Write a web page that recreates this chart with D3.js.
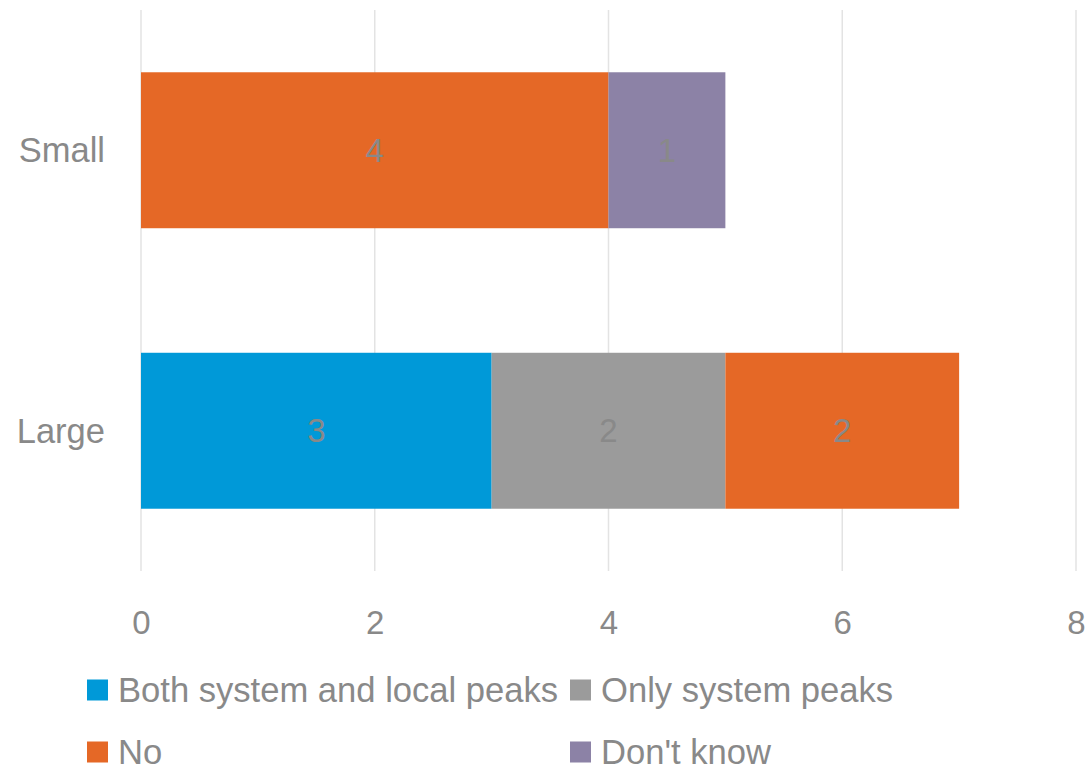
<!DOCTYPE html>
<html><head><meta charset="utf-8">
<script src="https://cdn.jsdelivr.net/npm/d3@7"></script>
<style>body{margin:0;background:#fff}svg{display:block}</style>
</head><body>
<svg id="chart" width="1089" height="770"></svg>
<script>
const categories = ["Small", "Large"];
const seriesNames = ["Both system and local peaks", "Only system peaks", "No", "Don't know"];
const seriesColors = ["#0099D8", "#9B9B9B", "#E56826", "#8C82A6"];
const bothValues = [0, 3];
const onlySystemValues = [0, 2];
const noValues = [4, 2];
const dontKnowValues = [1, 0];
const xTicks = [0, 2, 4, 6, 8];

const seriesValues = [bothValues, onlySystemValues, noValues, dontKnowValues];
const rows = categories.map((c, i) => {
  const r = {cat: c};
  seriesNames.forEach((s, j) => r[s] = seriesValues[j][i]);
  return r;
});
const stacked = d3.stack().keys(seriesNames)(rows);

const svg = d3.select("#chart");
const font = "'Liberation Sans', Arial, sans-serif";
const textColor = "#898989";

const x = d3.scaleLinear().domain([0, 8]).range([141, 1076]);
const y = d3.scaleBand().domain(categories).range([10, 571]).paddingInner(0.444).paddingOuter(0.222);

// gridlines
svg.append("g").selectAll("line").data(xTicks).join("line")
  .attr("x1", d => x(d)).attr("x2", d => x(d))
  .attr("y1", 10).attr("y2", 571)
  .attr("stroke", "#e3e3e3").attr("stroke-width", 1.5);

// bars
const layers = svg.append("g").selectAll("g").data(stacked).join("g")
  .attr("fill", (d, i) => seriesColors[i]);
layers.selectAll("rect").data(d => d.map(p => ({p, cat: p.data.cat})))
  .join("rect")
  .attr("x", d => x(d.p[0]))
  .attr("width", d => x(d.p[1]) - x(d.p[0]))
  .attr("y", d => y(d.cat))
  .attr("height", y.bandwidth());

// data labels
const labG = svg.append("g");
stacked.forEach(layer => {
  layer.forEach(p => {
    const v = p[1] - p[0];
    if (v > 0) {
      labG.append("text")
        .attr("x", x((p[0] + p[1]) / 2))
        .attr("y", y(p.data.cat) + y.bandwidth() / 2)
        .attr("text-anchor", "middle").attr("dominant-baseline", "central")
        .attr("font-family", font).attr("font-size", 33)
        .attr("fill", textColor).text(v);
    }
  });
});

// x axis labels
const xAxis = svg.append("g").attr("transform", "translate(0,622)")
  .call(d3.axisBottom(x).tickValues(xTicks).tickSize(0).tickPadding(0).tickFormat(d3.format("d")));
xAxis.select(".domain").remove();
xAxis.selectAll("text").attr("font-family", font).attr("font-size", 33)
  .attr("fill", textColor).attr("dy", null).attr("y", 0).attr("dominant-baseline", "central");

// y axis labels
const yAxis = svg.append("g").attr("transform", "translate(105,0)")
  .call(d3.axisLeft(y).tickSize(0).tickPadding(0));
yAxis.select(".domain").remove();
yAxis.selectAll("text").attr("font-family", font).attr("font-size", 34.5)
  .attr("fill", textColor).attr("dy", null).attr("x", 0).attr("dominant-baseline", "central");

// legend
const legendPos = [[87, 690], [570, 690], [87, 752], [570, 752]];
const lg = svg.append("g");
seriesNames.forEach((s, i) => {
  const [lx, ly] = legendPos[i];
  lg.append("rect").attr("x", lx).attr("y", ly - 10.5).attr("width", 21).attr("height", 21)
    .attr("fill", seriesColors[i]);
  lg.append("text").attr("x", lx + 31).attr("y", ly)
    .attr("dominant-baseline", "central")
    .attr("font-family", font).attr("font-size", 34.6).attr("fill", textColor).text(s);
});
</script>
</body></html>
